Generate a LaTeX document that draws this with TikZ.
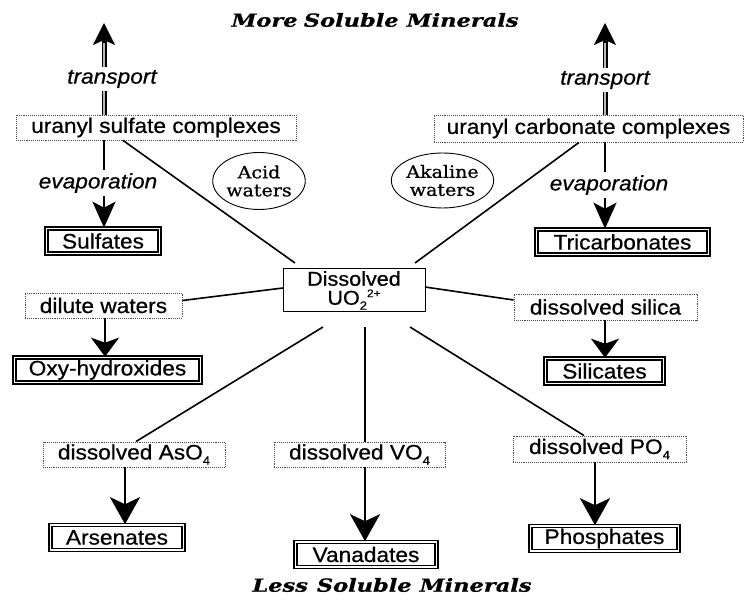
\documentclass[tikz,border=0pt]{standalone}
\usepackage{fontspec}
\setmainfont{Liberation Sans}[FakeStretch=1.08, FakeBold=0.6]
\newfontfamily\circfont{DejaVu Serif}[FakeStretch=1.12, FakeBold=0.8]
\newfontfamily\titlefont{DejaVu Serif}[FakeStretch=1.25, FakeBold=0.8]
\usetikzlibrary{arrows.meta,calc,shapes.geometric}
\newcommand{\subsc}[1]{\raisebox{-0.25em}{\fontsize{12}{12}\selectfont #1}}
\begin{document}
\begin{tikzpicture}[x=1pt,y=-1pt,
  every node/.style={font=\fontsize{21}{23}\selectfont},
  solbox/.style={draw=black!70, densely dotted, line width=0.9pt, inner sep=0pt, minimum height=25pt},
  minbox/.style={draw, double, double distance=1.5pt, line width=1.6pt, inner sep=0pt, minimum height=25pt},
  conn/.style={line width=1.6pt},
  evap/.style={line width=2.6pt, -{Stealth[length=26pt,width=23pt,inset=6pt]}},
  short/.style={line width=2.6pt, -{Stealth[length=19pt,width=28pt,inset=5pt]}},
  big/.style={line width=2.6pt, -{Stealth[length=27pt,width=30pt,inset=7pt]}},
  dshaft/.style={line width=1.5pt, double=gray!55, double distance=2pt},
  uphead/.style={line width=2pt, -{Stealth[length=22pt,width=22pt,inset=5pt]}},
  lbl/.style={fill=white, font=\fontsize{21}{23}\selectfont\itshape, inner sep=3pt},
  water/.style={draw, ellipse, line width=0.9pt, inner sep=0pt, align=center,
    font=\circfont\fontsize{17}{18}\selectfont},
  ttl/.style={font=\titlefont\fontsize{18}{20}\selectfont\bfseries\itshape}
]
\useasboundingbox (0,0) rectangle (745,601);
\fill[white] (0,0) rectangle (745,601);

% titles
\node[ttl] (more) at (375,20) {More\hspace{0.35em}Soluble\hspace{0.45em}Minerals};
\node[ttl] (less) at (392,585) {Less\hspace{0.5em}Soluble\hspace{0.45em}Minerals};

% central node
\node[draw, line width=1pt, minimum width=142pt, minimum height=43pt, inner sep=0pt, align=center,
  font=\fontsize{20}{20}\selectfont] (diss) at (354,290.5)
  {Dissolved\\[-1pt]UO\subsc{2}\raisebox{0.38em}{\fontsize{11}{11}\selectfont 2+}};

% solution boxes
\node[solbox, minimum width=280pt] (usulf) at (156,127.5) {uranyl sulfate complexes};
\node[solbox, minimum width=309pt, minimum height=27pt] (ucarb) at (588.5,128.5) {uranyl carbonate complexes};
\node[solbox, minimum width=157pt] (dilute) at (103.5,305.5) {dilute waters};
\node[solbox, minimum width=183pt, minimum height=26pt] (silica) at (605.5,307) {dissolved silica};
\node[solbox, minimum width=182pt] (aso4) at (134,454.5) {dissolved AsO\subsc{4}};
\node[solbox, minimum width=171pt] (vo4) at (359.5,454.5) {dissolved VO\subsc{4}};
\node[solbox, minimum width=173pt, minimum height=26pt] (po4) at (599.5,449) {dissolved PO\subsc{4}};

% mineral boxes
\node[minbox, minimum width=113pt] (sulf) at (103,241) {Sulfates};
\node[minbox, minimum width=172pt] (tricarb) at (622.5,242) {Tricarbonates};
\node[minbox, minimum width=186pt] (oxy) at (107.5,370) {Oxy-hydroxides};
\node[minbox, minimum width=118pt] (silic) at (604.5,371) {Silicates};
\node[minbox, minimum width=133pt] (arsen) at (117,537.5) {Arsenates};
\node[minbox, minimum width=141pt] (vanad) at (366,554.5) {Vanadates};
\node[minbox, minimum width=148pt] (phos) at (604.5,538.5) {Phosphates};

% water-type ellipses
\node[water, minimum width=92pt, minimum height=57pt] (acid) at (259,181) {Acid\\waters};
\node[water, minimum width=85pt, minimum height=55pt] (alk) at (442.5,180.5) {Akaline\\waters};

% free ends
\coordinate (topL) at (104,23);
\coordinate (topR) at (605,23);
\coordinate (dNW) at (295,263);
\coordinate (dNE) at (415,263);
\coordinate (dW) at (283,288);
\coordinate (dE) at (425,287);
\coordinate (dSW) at (323,327);
\coordinate (dS) at (365,327);
\coordinate (dSE) at (410,327);

% connectors to the dissolved uranyl
\draw[conn] ([xshift=-33pt]usulf.south) -- (dNW);
\draw[conn] ([xshift=-9.5pt]ucarb.south) -- (dNE);
\draw[conn] ([yshift=5pt]dilute.east) -- (dW);
\draw[conn] ([yshift=7pt]silica.west) -- (dE);
\draw[conn] ([xshift=2pt]aso4.north) -- (dSW);
\draw[conn] ([xshift=5.5pt]vo4.north) -- (dS);
\draw[conn] ([xshift=-15.5pt]po4.north) -- (dSE);

% transport arrows
\draw[dshaft] (usulf.north -| topL) -- ([yshift=-18pt]topL);
\draw[uphead] ([yshift=-20pt]topL) -- (topL);
\node[lbl] (trL) at (112,79) {transport};
\draw[dshaft] (ucarb.north -| topR) -- ([yshift=-18pt]topR);
\draw[uphead] ([yshift=-20pt]topR) -- (topR);
\node[lbl] (trR) at (605,80) {transport};

% evaporation arrows
\draw[evap] (usulf.south -| topL) -- (sulf.north -| topL);
\node[lbl] (evL) at (98,183) {evaporation};
\draw[evap] (ucarb.south -| topR) -- (tricarb.north -| topR);
\node[lbl] (evR) at (609,185) {evaporation};

% precipitation arrows
\draw[short] ([xshift=1.5pt]dilute.south) -- ([xshift=1.5pt]dilute.south |- oxy.north);
\draw[short] ([xshift=-0.5pt]silica.south) -- ([xshift=-0.5pt]silica.south |- silic.north);
\draw[big] ([xshift=-9pt]aso4.south) -- ([xshift=-9pt]aso4.south |- arsen.north);
\draw[big] ([xshift=5.5pt]vo4.south) -- ([xshift=5.5pt]vo4.south |- vanad.north);
\draw[big] ([xshift=-4.5pt]po4.south) -- ([xshift=-4.5pt]po4.south |- phos.north);
\end{tikzpicture}
\end{document}
